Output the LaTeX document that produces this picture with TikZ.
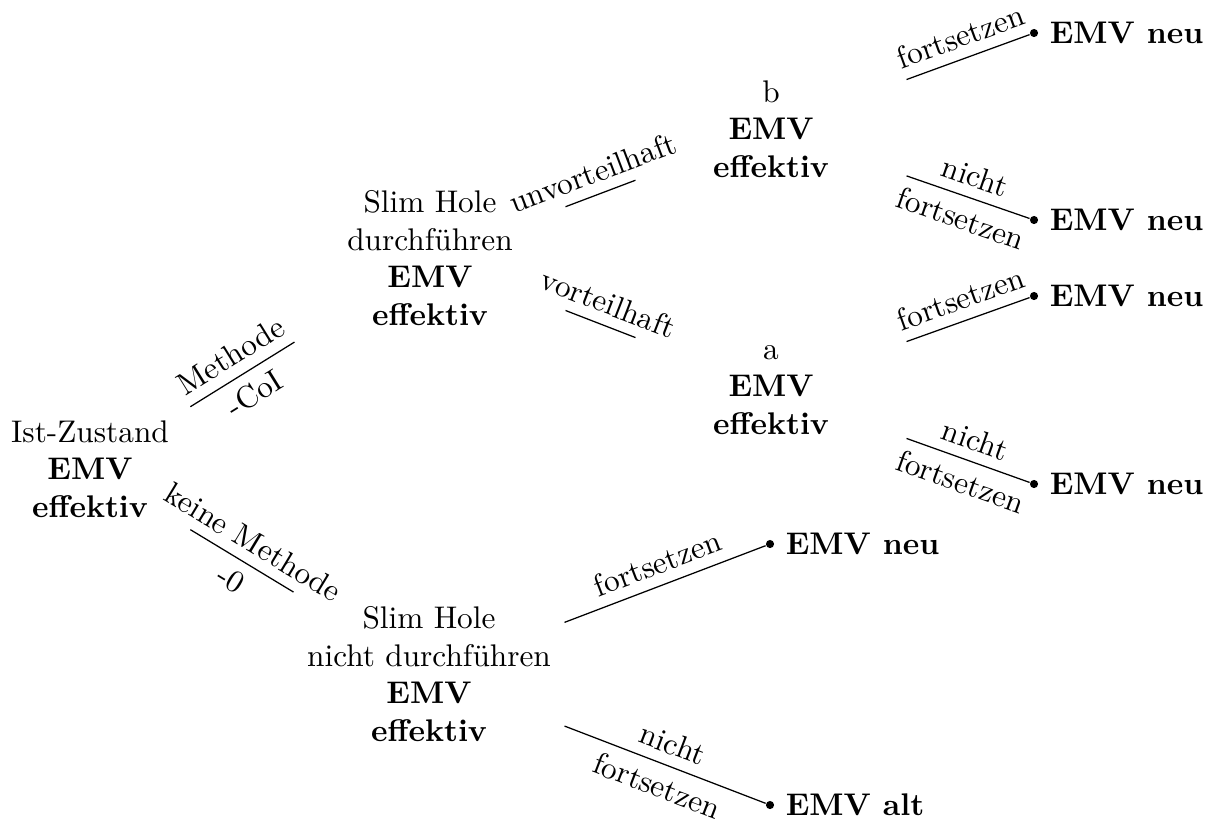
\documentclass[tikz,border=0pt]{standalone}
\usetikzlibrary{positioning}
\begin{document}
\begin{tikzpicture}[x=0.011223cm, y=-0.011223cm,
  state/.style={align=center, minimum width=3.03cm, minimum height=3cm},
  leaf/.style={circle, fill, inner sep=0pt, minimum size=2.6pt},
  lab/.style={sloped, above},
  labb/.style={sloped, below}]
\useasboundingbox (0,0) rectangle (1216,821);

% Entscheidungsknoten
\node[state, minimum width=2.24cm, minimum height=1.8cm] (ist) at (90,469) {Ist-Zustand\\\textbf{EMV}\\\textbf{effektiv}};
\node[state] (sh1) at (430,258) {Slim Hole\\durchf\"uhren\\\textbf{EMV}\\\textbf{effektiv}};
\node[state] (sh2) at (429,674) {Slim Hole\\nicht durchf\"uhren\\\textbf{EMV}\\\textbf{effektiv}};
\node[state] (b) at (771,129) {b\\\textbf{EMV}\\\textbf{effektiv}};
\node[state] (a) at (771,390) {a\\\textbf{EMV}\\\textbf{effektiv}};

% Endknoten
\node[leaf, label=right:\textbf{EMV neu}] (l1) at (1034,33) {};
\node[leaf, label=right:\textbf{EMV neu}] (l2) at (1034,220) {};
\node[leaf, label=right:\textbf{EMV neu}] (l3) at (1034,296) {};
\node[leaf, label=right:\textbf{EMV neu}] (l4) at (1034,484) {};
\node[leaf, label=right:\textbf{EMV neu}] (l5) at (770,544) {};
\node[leaf, label=right:\textbf{EMV alt}] (l6) at (770,805) {};

% Kanten
\draw (ist) -- node[lab]{Methode} node[labb]{-CoI} (sh1);
\draw (ist) -- node[lab]{keine Methode} node[labb]{-0} (sh2);
\draw (sh1) -- node[lab]{unvorteilhaft} (b);
\draw (sh1) -- node[lab]{vorteilhaft} (a);
\draw (b) -- node[lab]{fortsetzen} (l1);
\draw (b) -- node[lab]{nicht} node[labb]{fortsetzen} (l2);
\draw (a) -- node[lab]{fortsetzen} (l3);
\draw (a) -- node[lab]{nicht} node[labb]{fortsetzen} (l4);
\draw (sh2) -- node[lab]{fortsetzen} (l5);
\draw (sh2) -- node[lab]{nicht} node[labb]{fortsetzen} (l6);
\end{tikzpicture}
\end{document}
